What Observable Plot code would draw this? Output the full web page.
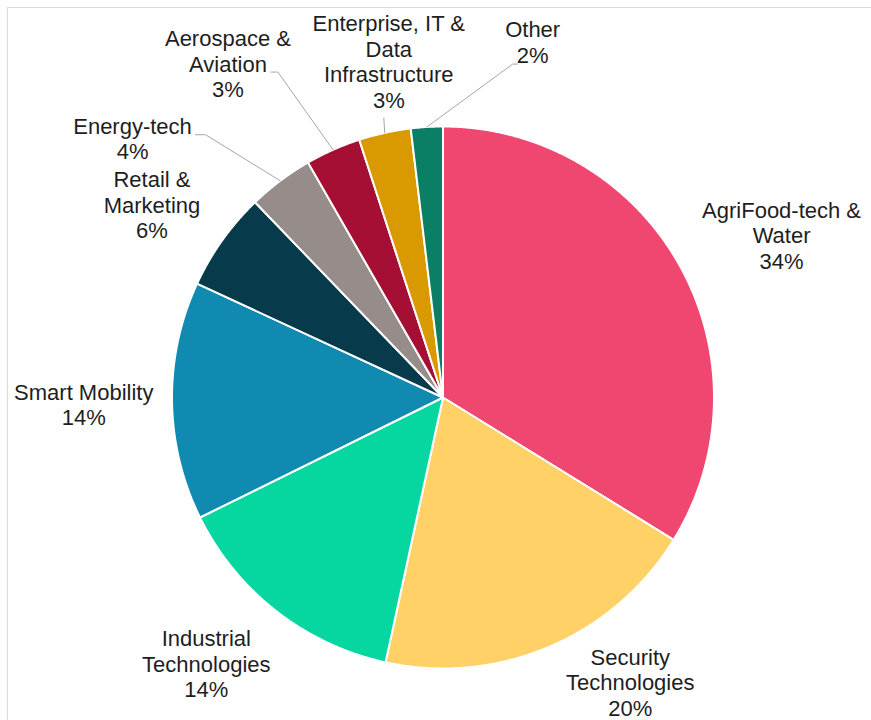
<!DOCTYPE html>
<html><head><meta charset="utf-8">
<script src="https://cdn.jsdelivr.net/npm/d3@7"></script>
<script src="https://cdn.jsdelivr.net/npm/@observablehq/plot@0.6"></script>
<style>
html,body{margin:0;padding:0;background:#fff;overflow:hidden;}
#wrap{position:relative;width:871px;height:720px;overflow:hidden;}
#frame{position:absolute;left:7px;top:7px;width:900px;height:800px;border:1px solid #d9d9d9;box-sizing:border-box;}
#chart{position:absolute;left:0;top:0;}
</style></head><body>
<div id="wrap"><div id="frame"></div><div id="chart"></div></div>
<script>
// ---- data ----
const categories = ["AgriFood-tech &\nWater","Security\nTechnologies","Industrial\nTechnologies","Smart Mobility","Retail &\nMarketing","Energy-tech","Aerospace &\nAviation","Enterprise, IT &\nData\nInfrastructure","Other"];
const shares = [33.8,19.6,14.3,14.2,5.9,3.9,3.3,3.1,1.9];
const colors = ["#EF476F","#FFD166","#06D6A0","#118AB2","#073B4C","#968D8B","#A50F34","#D89A00","#0B7F66"];

// ---- label layout (Excel's manual placement): distance in pie radii, angle clockwise from 12 o'clock ----
const labelRadius = [1.383,1.262,1.318,1.326,1.285,1.489,1.461,1.251,1.349];
const labelAngle = [64.6,146.8,221.5,268.7,303.3,309.7,327.1,350.8,14.2];
// leader lines: [end offset, elbow offset] from the label centre in px; null = none
const leaders = [null,null,null,null,null,[[63,-5],[73,-5]],[[43,7],[50,7]],[[-5,55],[-5,55]],[[-15,21],[-20,21]]];

const R = 271; // px per pie radius
const total = d3.sum(shares);
const arcs = d3.pie().sort(null).value(d => d)(shares);
const pt = (a, r) => [r * Math.sin(a), -r * Math.cos(a)];

const slices = arcs.map((p, i) => {
  const n = Math.max(2, Math.ceil((p.endAngle - p.startAngle) / 0.004));
  const ring = [[0, 0]];
  for (let k = 0; k <= n; k++) ring.push(pt(p.startAngle + (p.endAngle - p.startAngle) * k / n, 1));
  ring.push([0, 0]);
  return {type: "Feature", properties: {name: categories[i]}, geometry: {type: "Polygon", coordinates: [ring]}};
});

const labels = categories.map((c, i) => {
  const [x, y] = pt(labelAngle[i] * Math.PI / 180, labelRadius[i]);
  return {text: c + "\n" + Math.round(shares[i] / total * 100) + "%", x, y};
});

const leaderPts = [];
leaders.forEach((L, i) => {
  if (!L) return;
  const lb = labels[i];
  const [mx, my] = pt((arcs[i].startAngle + arcs[i].endAngle) / 2, 1);
  leaderPts.push({id: i, x: lb.x + L[0][0] / R, y: lb.y + L[0][1] / R});
  leaderPts.push({id: i, x: lb.x + L[1][0] / R, y: lb.y + L[1][1] / R});
  leaderPts.push({id: i, x: mx, y: my});
});

const chart = Plot.plot({
  width: 871, height: 720,
  marginLeft: 442.5 - R, marginRight: 871 - 442.5 - R, marginTop: 397 - R, marginBottom: 720 - 397 - R,
  projection: {type: "identity", domain: {type: "MultiPoint", coordinates: [[-1, -1], [1, 1]]}, clip: false},
  color: {domain: categories, range: colors},
  style: {fontFamily: "'Liberation Sans', Arial, sans-serif", background: "transparent", overflow: "visible"},
  marks: [
    Plot.geo(slices, {fill: d => d.properties.name, stroke: "white", strokeWidth: 2, strokeLinejoin: "round"}),
    Plot.line(leaderPts, {x: "x", y: "y", z: "id", stroke: "#a6a6a6", strokeWidth: 1}),
    Plot.text(labels, {x: "x", y: "y", text: "text", fontSize: 22, lineHeight: 1.16, fill: "#1e1e1e", textAnchor: "middle", dy: -1.5})
  ]
});
document.getElementById("chart").appendChild(chart);
</script>
</body></html>
